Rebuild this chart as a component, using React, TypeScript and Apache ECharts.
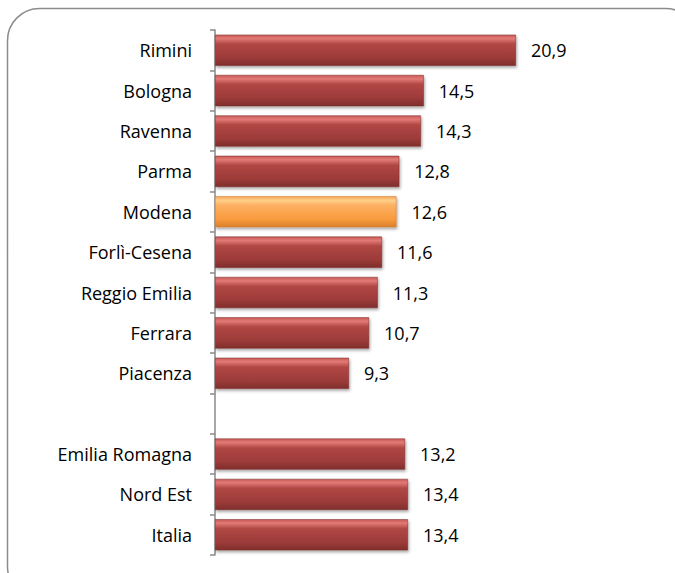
import React, { useEffect, useRef } from "react";
import * as echarts from "echarts";

const categories = [
  "Rimini",
  "Bologna",
  "Ravenna",
  "Parma",
  "Modena",
  "Forlì-Cesena",
  "Reggio Emilia",
  "Ferrara",
  "Piacenza",
  "",
  "Emilia Romagna",
  "Nord Est",
  "Italia",
];
const values: (number | null)[] = [20.9, 14.5, 14.3, 12.8, 12.6, 11.6, 11.3, 10.7, 9.3, null, 13.2, 13.4, 13.4];
const highlighted = "Modena";

const redGrad = new echarts.graphic.LinearGradient(0, 0, 0, 1, [
  { offset: 0, color: "#c85a57" },
  { offset: 0.12, color: "#e27a76" },
  { offset: 0.3, color: "#b04744" },
  { offset: 0.75, color: "#9c3b39" },
  { offset: 1, color: "#7f2e2c" },
]);
const orangeGrad = new echarts.graphic.LinearGradient(0, 0, 0, 1, [
  { offset: 0, color: "#f5a04c" },
  { offset: 0.12, color: "#ffd08a" },
  { offset: 0.3, color: "#fdb062" },
  { offset: 0.75, color: "#f99a3d" },
  { offset: 1, color: "#d9802c" },
]);

export default function App() {
  const ref = useRef<HTMLDivElement>(null);
  useEffect(() => {
    const chart = echarts.init(ref.current!, null, { renderer: "svg" });
    const font = "'Open Sans', sans-serif";
    chart.setOption({
      animation: false,
      backgroundColor: "#ffffff",
      graphic: [
        {
          type: "rect",
          shape: { x: 7.5, y: 8.5, width: 690, height: 590, r: 32 },
          style: { fill: "none", stroke: "#8c8c8c", lineWidth: 1.5 },
          silent: true,
        },
      ],
      grid: { left: 215, top: 30, bottom: 18, right: 100, containLabel: false },
      xAxis: {
        type: "value",
        min: 0,
        max: 25,
        show: false,
      },
      yAxis: {
        type: "category",
        inverse: true,
        data: categories,
        boundaryGap: true,
        axisLine: { show: true, lineStyle: { color: "#8a8a8a", width: 1.5 } },
        axisTick: { show: true, length: 5, lineStyle: { color: "#8a8a8a", width: 1.5 } },
        axisLabel: {
          margin: 23,
          color: "#000000",
          fontSize: 18,
          fontFamily: font,
        },
        splitLine: { show: false },
      },
      series: [
        {
          type: "bar",
          barWidth: "77%",
          data: values.map((v, i) => ({
            value: v,
            itemStyle: {
              color: categories[i] === highlighted ? orangeGrad : redGrad,
              borderColor: categories[i] === highlighted ? "#c8782e" : "#7a2a28",
              borderWidth: 0.5,
              shadowColor: "rgba(0,0,0,0.35)",
              shadowBlur: 3,
              shadowOffsetX: 1,
              shadowOffsetY: 2,
            },
          })),
          label: {
            show: true,
            position: "right",
            distance: 15,
            color: "#000000",
            fontSize: 18,
            fontFamily: font,
            formatter: (p: any) => (p.value == null ? "" : String(p.value).replace(".", ",")),
          },
        },
      ],
    });
    return () => chart.dispose();
  }, []);
  return (
    <div
      ref={ref}
      style={{ position: "fixed", left: 0, top: 0, width: 675, height: 573 }}
    />
  );
}
